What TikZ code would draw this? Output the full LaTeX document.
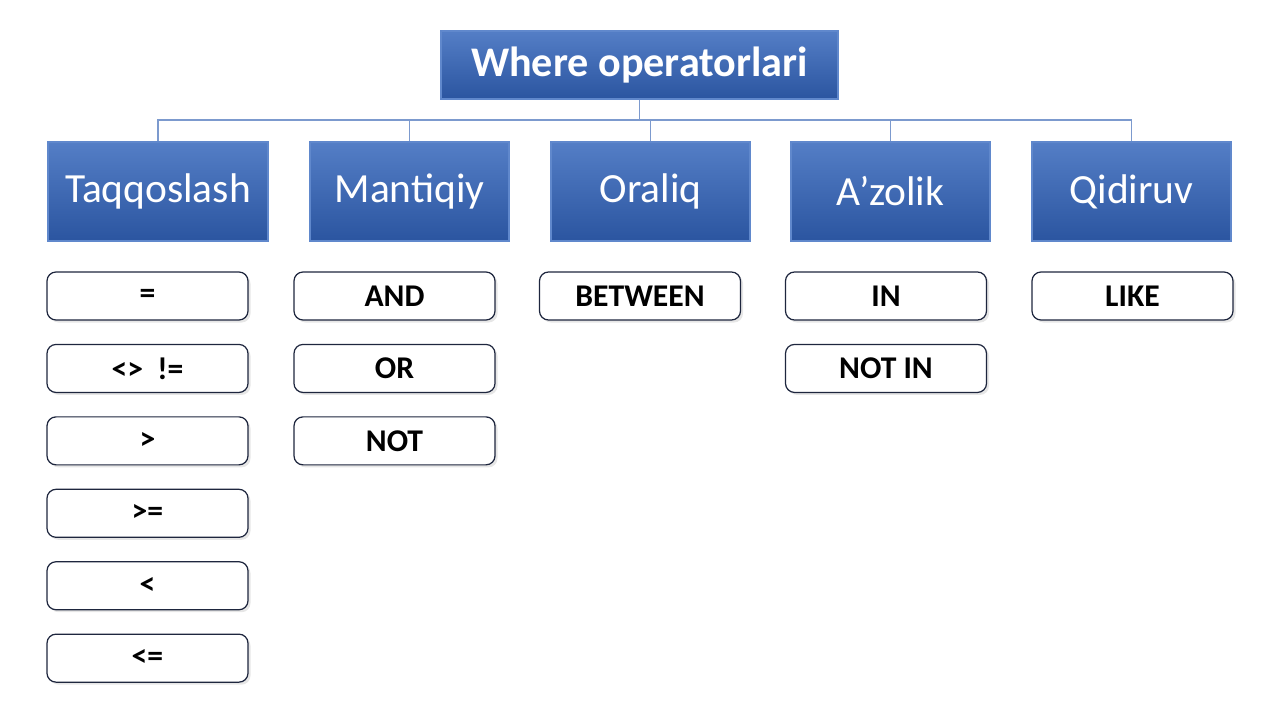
\documentclass[tikz,border=0pt]{standalone}
\usepackage{fontspec}
\setmainfont{Carlito}
\usepackage{tikz}
\usetikzlibrary{positioning,shadows}
\definecolor{bluetop}{RGB}{84,126,198}
\definecolor{bluebot}{RGB}{43,85,160}
\definecolor{blueedge}{RGB}{96,136,204}
\definecolor{connline}{RGB}{124,154,206}
\definecolor{opedge}{RGB}{30,38,62}
\tikzset{top box/.style={rectangle,top color=bluetop,bottom color=bluebot,draw=blueedge,line width=0.3pt,
    text=white,font=\fontsize{12}{14}\selectfont\bfseries,minimum width=39.7mm,minimum height=6.8mm,inner sep=0pt},
  cat box/.style={rectangle,top color=bluetop,bottom color=bluebot,draw=blueedge,line width=0.3pt,
    text=white,font=\fontsize{11.8}{14}\selectfont,minimum width=19.9mm,minimum height=9.9mm,inner sep=0pt},
  op box/.style={rectangle,rounded corners=0.9mm,fill=white,draw=opedge,line width=0.35pt,
    drop shadow={opacity=0.2,shadow xshift=0.25mm,shadow yshift=-0.25mm},
    font=\fontsize{9}{11}\selectfont\bfseries,minimum width=20.1mm,minimum height=4.8mm,inner sep=0pt},
}
\tikzstyle{conn} = [draw=connline,line width=0.35pt]

\begin{document}
\begin{tikzpicture}[x=0.1mm,y=-0.1mm]
    \useasboundingbox (0,0) rectangle (1280,720);
    \node[top box] (where) at (639.5,65) {Where operatorlari};

    \node[cat box,minimum width=22mm] (taq) at (158,191.5) {Taqqoslash};
    \node[cat box] (man) at (409.5,191.5) {Mantiqiy};
    \node[cat box] (ora) at (650.5,191.5) {Oraliq};
    \node[cat box] (azo) at (890.5,191.5) {A’zolik};
    \node[cat box] (qid) at (1131.5,191.5) {Qidiruv};

    \coordinate (bus) at (639.5,120);
    \foreach \c in {taq,man,ora,azo,qid}
        \draw[conn] (where.south) -- (bus) -| (\c.north);

    % Taqqoslash
    \node[op box] (eq) at (147.5,296) {=};
    \node[op box] (ne)[below=2.32mm of eq] {<>\ \ !=};
    \node[op box] (gt)[below=2.32mm of ne] {>};
    \node[op box] (ge)[below=2.32mm of gt] {>=};
    \node[op box] (lt)[below=2.32mm of ge] {<};
    \node[op box] (le)[below=2.32mm of lt] {<=};

    % Mantiqiy
    \node[op box] (and) at (394.5,296) {AND};
    \node[op box] (or)[below=2.32mm of and] {OR};
    \node[op box] (not)[below=2.32mm of or] {NOT};

    % Oraliq, A'zolik, Qidiruv
    \node[op box] (betw) at (640,296) {BETWEEN};
    \node[op box] (in) at (886,296) {IN};
    \node[op box] (notin)[below=2.32mm of in] {NOT IN};
    \node[op box] (like) at (1132.5,296) {LIKE};

\end{tikzpicture}
\end{document}
